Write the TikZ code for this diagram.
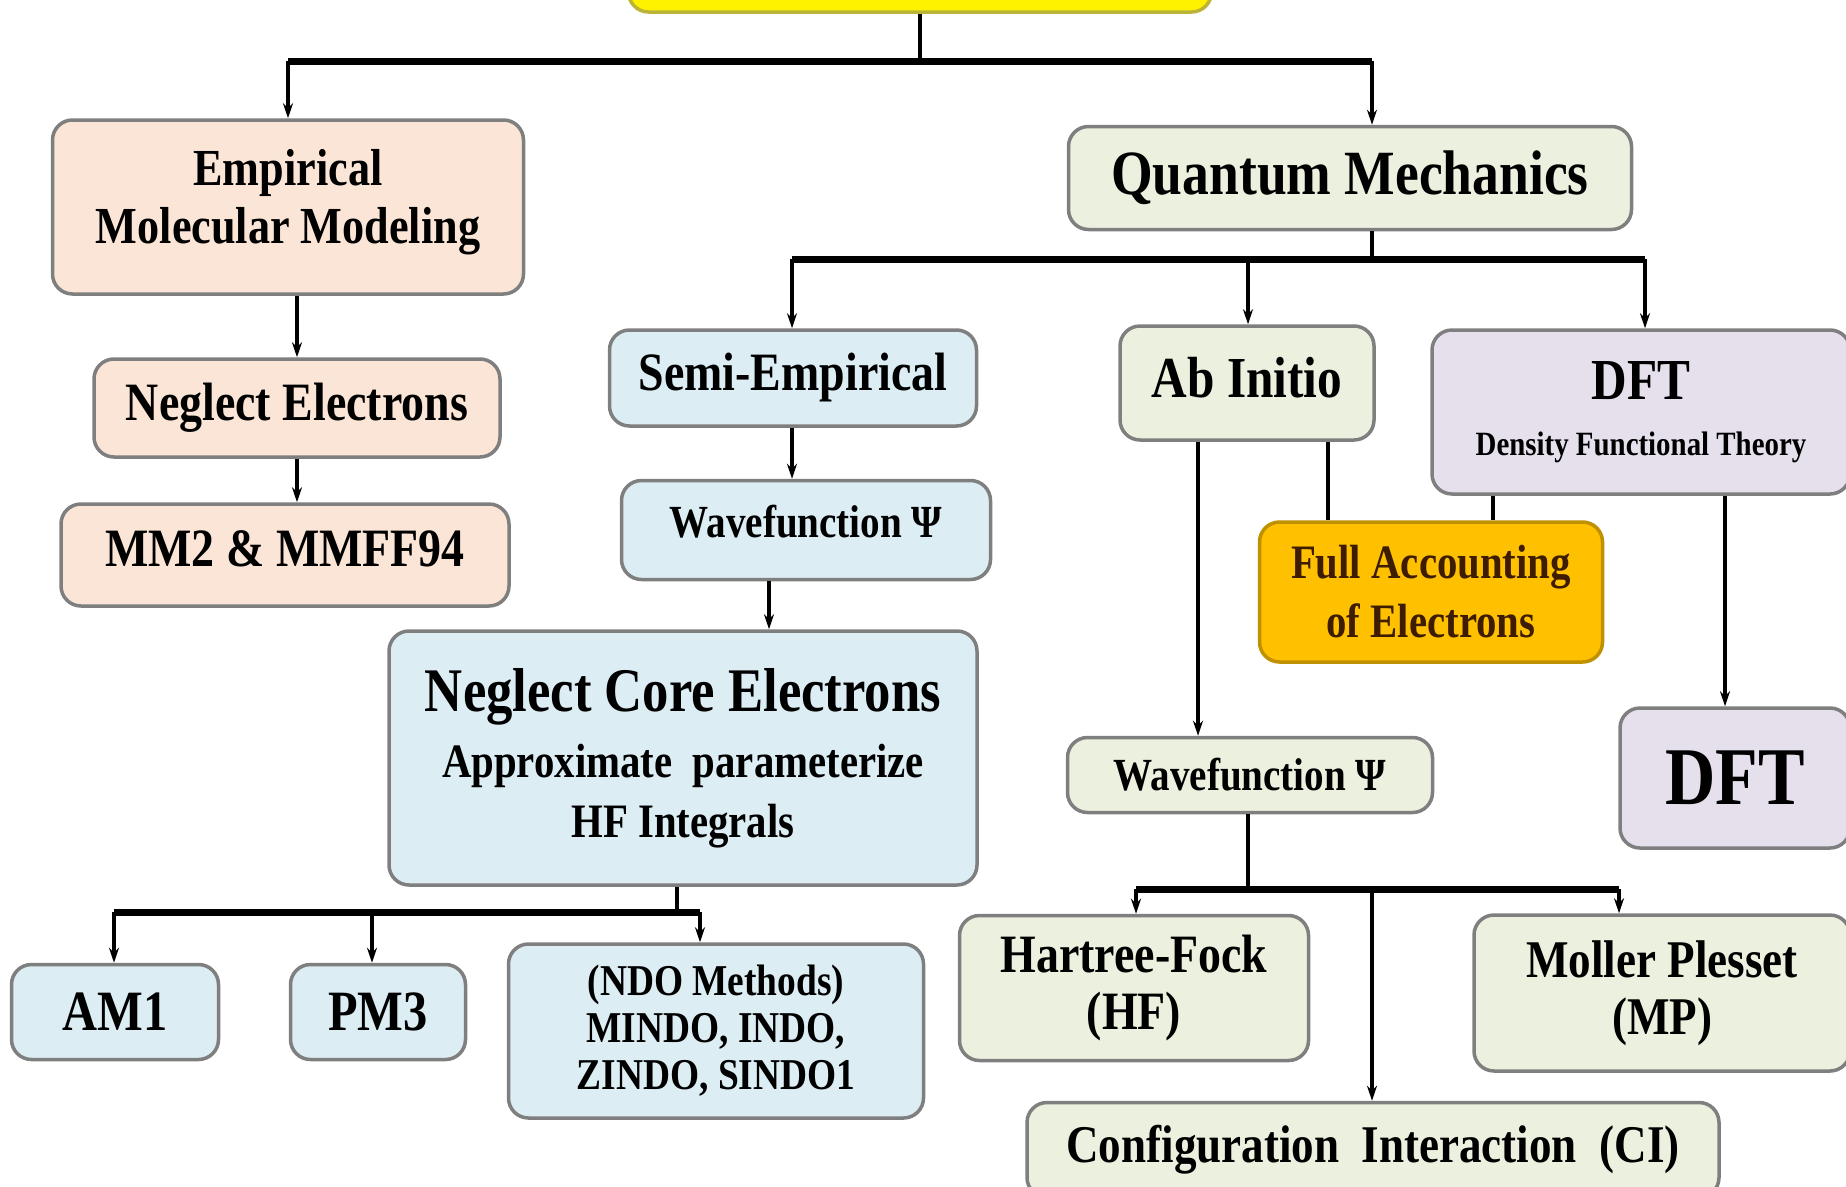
\documentclass[tikz,border=0pt]{standalone}
\usepackage{fontspec}
\setmainfont{Liberation Serif}[FakeStretch=0.85]
\usetikzlibrary{arrows.meta}
\definecolor{peach}{HTML}{FBE5D6}
\definecolor{paleblue}{HTML}{DCEDF3}
\definecolor{palegreen}{HTML}{EBF1DE}
\definecolor{lavender}{HTML}{E5E0EC}
\definecolor{amber}{HTML}{FFC000}
\definecolor{amberdark}{HTML}{BF9000}
\definecolor{brownink}{HTML}{3D1C00}
\definecolor{boxgray}{HTML}{7F7F7F}
\newcommand{\fs}[2]{\fontsize{#1}{#2}\selectfont}
\begin{document}
\begin{tikzpicture}[x=1pt,y=-1pt,
		box/.style={draw=boxgray,line width=3.5pt,rounded corners=20pt,align=center,inner sep=0pt},
		empbox/.style={box,fill=peach},
		semibox/.style={box,fill=paleblue},
		abbox/.style={box,fill=palegreen},
		dftbox/.style={box,fill=lavender},
		link/.style={line width=4pt},
		bus/.style={line width=7pt},
		arr/.style={line width=4pt,-{Stealth[length=15pt,width=10pt]}}]
	\useasboundingbox (0,0) rectangle (1846,1186);
	\clip (0,0) rectangle (1846,1186);
		\node[box,fill=yellow,draw=yellow!70!black,minimum width=583pt,minimum height=90pt] (top) at (920,-33) {};
		\node[empbox,minimum width=471pt,minimum height=174pt,font=\bfseries\fs{52}{58},text depth=21pt] (emp) at (288,207) {Empirical\\Molecular Modeling};
		\node[empbox,minimum width=406pt,minimum height=98pt,font=\bfseries\fs{54}{60}] (neg) at (297,408) {Neglect Electrons};
		\node[empbox,minimum width=448pt,minimum height=102pt,font=\bfseries\fs{54}{60},text depth=12pt] (mm) at (285,555) {MM2 \& MMFF94};
		\node[abbox,minimum width=563pt,minimum height=103pt,font=\bfseries\fs{63}{70}] (qm) at (1350,178) {Quantum Mechanics};
		\node[semibox,minimum width=367pt,minimum height=96pt,font=\bfseries\fs{54}{60}] (semi) at (793,378) {Semi-Empirical};
		\node[semibox,minimum width=369pt,minimum height=99pt,font=\bfseries\fs{46}{52},text depth=18pt] (wave1) at (806,530) {Wavefunction Ψ};
		\node[abbox,minimum width=254pt,minimum height=114pt,font=\bfseries\fs{58}{64},text depth=12pt] (abi) at (1247,383) {Ab Initio};
		\node[dftbox,minimum width=418pt,minimum height=164pt,font=\bfseries\fs{34}{40}] (dft) at (1641,412) {\fs{58}{64}DFT\\[16pt]Density Functional Theory};
		\node[box,fill=amber,draw=amberdark,text=brownink,minimum width=343pt,minimum height=140pt,font=\bfseries\fs{48}{59}] (full) at (1431,592) {Full Accounting\\of Electrons};
		\node[semibox,minimum width=588pt,minimum height=254pt,font=\bfseries\fs{48}{60}] (core) at (683,758) {\fs{62}{68}Neglect Core Electrons\\[6pt]Approximate~ parameterize\\HF Integrals};
		\node[abbox,minimum width=365pt,minimum height=75pt,font=\bfseries\fs{46}{52}] (wave2) at (1250,775) {Wavefunction Ψ};
		\node[dftbox,minimum width=230pt,minimum height=140pt,font=\bfseries\fs{82}{90}] (dft2) at (1735,778) {DFT};
		\node[semibox,minimum width=207pt,minimum height=95pt,font=\bfseries\fs{57}{62}] (am1) at (115,1012) {AM1};
		\node[semibox,minimum width=175pt,minimum height=95pt,font=\bfseries\fs{57}{62}] (pm3) at (378,1012) {PM3};
		\node[semibox,minimum width=415pt,minimum height=174pt,font=\bfseries\fs{44}{47}] (ndo) at (716,1031) {(NDO Methods)\\MINDO, INDO,\\ZINDO, SINDO1};
		\node[abbox,minimum width=349pt,minimum height=145pt,font=\bfseries\fs{54}{57}] (hf) at (1134,988) {Hartree-Fock\\(HF)};
		\node[abbox,minimum width=376pt,minimum height=156pt,font=\bfseries\fs{53}{57}] (mp) at (1662,993) {Moller Plesset\\(MP)};
		\node[abbox,minimum width=692pt,minimum height=95pt,font=\bfseries\fs{53}{58}] (ci) at (1373,1150) {Configuration~ Interaction~ (CI)};
		\coordinate (j0) at (920,61);
		\coordinate (j1) at (288,61);
		\coordinate (j2) at (1372,61);
		\draw[link] (top.south) -- (j0);
		\draw[bus] (j1) -- (j2);
		\draw[arr] (j1) -- (j1 |- emp.north);
		\draw[arr] (j2) -- (j2 |- qm.north);
		\draw[arr] (neg.north |- emp.south) -- (neg.north);
		\draw[arr] (neg.south) -- (neg.south |- mm.north);
		\coordinate (q0) at (1372,259);
		\coordinate (q1) at (792,259);
		\coordinate (q2) at (1248,259);
		\coordinate (q3) at (1645,259);
		\draw[link] (q0 |- qm.south) -- (q0);
		\draw[bus] (q1) -- (q3);
		\draw[arr] (q1) -- (q1 |- semi.north);
		\draw[arr] (q2) -- (q2 |- abi.north);
		\draw[arr] (q3) -- (q3 |- dft.north);
		\draw[arr] (q1 |- semi.south) -- (q1 |- wave1.north);
		\coordinate (c1) at (769,600);
		\draw[arr] (c1 |- wave1.south) -- (c1 |- core.north);
		\coordinate (k0) at (677,912);
		\coordinate (k1) at (114,912);
		\coordinate (k2) at (372,912);
		\coordinate (k3) at (700,912);
		\draw[link] (k0 |- core.south) -- (k0);
		\draw[bus] (k1) -- (k3);
		\draw[arr] (k1) -- (k1 |- am1.north);
		\draw[arr] (k2) -- (k2 |- pm3.north);
		\draw[arr] (k3) -- (k3 |- ndo.north);
		\coordinate (a1) at (1198,600);
		\coordinate (a2) at (1328,480);
		\coordinate (d1) at (1493,508);
		\coordinate (d2) at (1725,600);
		\draw[arr] (a1 |- abi.south) -- (a1 |- wave2.north);
		\draw[link] (a2 |- abi.south) -- (a2 |- full.north);
		\draw[link] (d1 |- dft.south) -- (d1 |- full.north);
		\draw[arr] (d2 |- dft.south) -- (d2 |- dft2.north);
		\coordinate (w0) at (1248,889);
		\coordinate (w1) at (1136,889);
		\coordinate (w2) at (1372,889);
		\coordinate (w3) at (1619,889);
		\draw[link] (w0 |- wave2.south) -- (w0);
		\draw[bus] (w1) -- (w3);
		\draw[arr] (w1) -- (w1 |- hf.north);
		\draw[arr] (w2) -- (w2 |- ci.north);
		\draw[arr] (w3) -- (w3 |- mp.north);
\end{tikzpicture}
\end{document}
